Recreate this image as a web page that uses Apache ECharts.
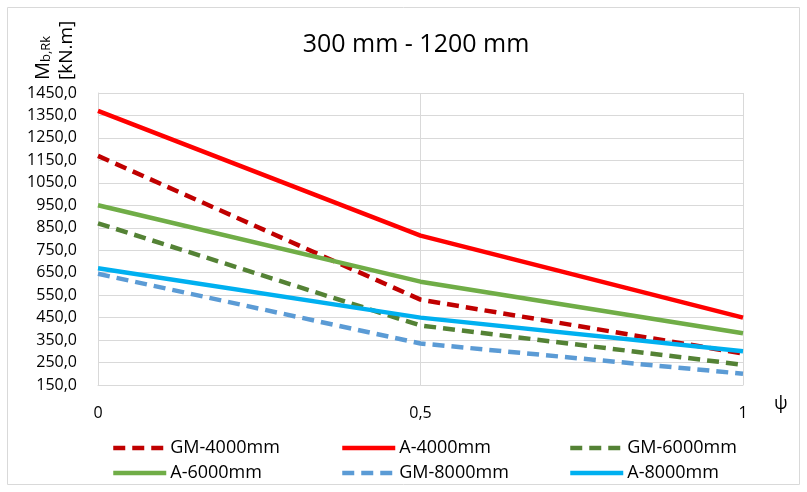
<!DOCTYPE html>
<html><head><meta charset="utf-8">
<script src="https://cdn.jsdelivr.net/npm/echarts@6/dist/echarts.min.js"></script>
<style>html,body{margin:0;padding:0;background:#fff}#c{width:807px;height:492px}</style>
</head><body><div id="c"></div>
<script>
const xValues = [0, 0.5, 1];
const seriesNames = ['GM-4000mm','A-4000mm','GM-6000mm','A-6000mm','GM-8000mm','A-8000mm'];
const gm4000 = [1170, 530, 290];
const a4000  = [1370, 815, 450];
const gm6000 = [870, 415, 240];
const a6000  = [950, 610, 380];
const gm8000 = [645, 335, 200];
const a8000  = [670, 450, 300];
const yTicks = {min:150, max:1450, step:100};

const colors = ['#C00000','#FF0000','#548235','#70AD47','#5B9BD5','#00B0F0'];
const dashed = [true,false,true,false,true,false];
const values = [gm4000,a4000,gm6000,a6000,gm8000,a8000];
const font = '"Open Sans", sans-serif';

const chart = echarts.init(document.getElementById('c'));
const legendPos = [[106,434],[335,434],[563,434],[106,459],[335,459],[563,459]];
chart.setOption({
  animation:false,
  title:{text:'300 mm - 1200 mm',left:411,top:27,textAlign:'center',textStyle:{fontFamily:font,fontSize:25,fontWeight:'normal',color:'#000'}},
  graphic:[
    {type:'rect',shape:{x:7.5,y:7.5,width:792,height:477},style:{fill:'none',stroke:'#D9D9D9',lineWidth:1},silent:true},
    {type:'text',x:53,y:80,rotation:Math.PI/2,style:{text:'{m|M}{s|b,Rk}\n{u|[kN.m]}',align:'left',verticalAlign:'middle',
      rich:{m:{fontFamily:font,fontSize:20,fill:'#000',verticalAlign:'bottom',lineHeight:27},s:{fontFamily:font,fontSize:13,fill:'#000',verticalAlign:'bottom',lineHeight:27},u:{fontFamily:font,fontSize:19,fill:'#000',lineHeight:27}}}}
  ],
  legend: seriesNames.map((n,i)=>({data:[n],left:legendPos[i][0],top:legendPos[i][1],itemWidth:53,itemHeight:16,itemGap:0,
    itemStyle:{opacity:0},lineStyle:{width:4.5},
    textStyle:{fontFamily:font,fontSize:18,color:'#000',padding:[0,0,0,-1]}})),
  grid:{left:98,right:64,top:93,bottom:107},
  xAxis:{type:'value',min:0,max:1,interval:0.5,
    name:'ψ',nameLocation:'end',nameGap:31,nameTextStyle:{fontFamily:font,fontSize:18,color:'#000',verticalAlign:'bottom',padding:[0,0,-28,0]},
    axisLine:{show:true,lineStyle:{color:'#D9D9D9',width:1}},axisTick:{show:false},
    axisLabel:{fontFamily:font,fontSize:16,color:'#000',margin:20,formatter:v=>String(v).replace('.',',')},
    splitLine:{show:true,lineStyle:{color:'#D9D9D9',width:1}}},
  yAxis:{type:'value',min:yTicks.min,max:yTicks.max,interval:yTicks.step,
    axisLine:{show:true,lineStyle:{color:'#D9D9D9',width:1}},axisTick:{show:false},
    axisLabel:{fontFamily:font,fontSize:16,color:'#000',margin:21,formatter:v=>v.toFixed(1).replace('.',',')},
    splitLine:{show:true,lineStyle:{color:'#D9D9D9',width:1}}},
  series: seriesNames.map((n,i)=>({name:n,type:'line',symbol:'none',
    data: xValues.map((x,j)=>[x,values[i][j]]),
    lineStyle:{color:colors[i],width:4.5,type:dashed[i]?[12,7]:'solid',cap:'butt'},
    itemStyle:{color:colors[i]}}))
});
</script></body></html>
